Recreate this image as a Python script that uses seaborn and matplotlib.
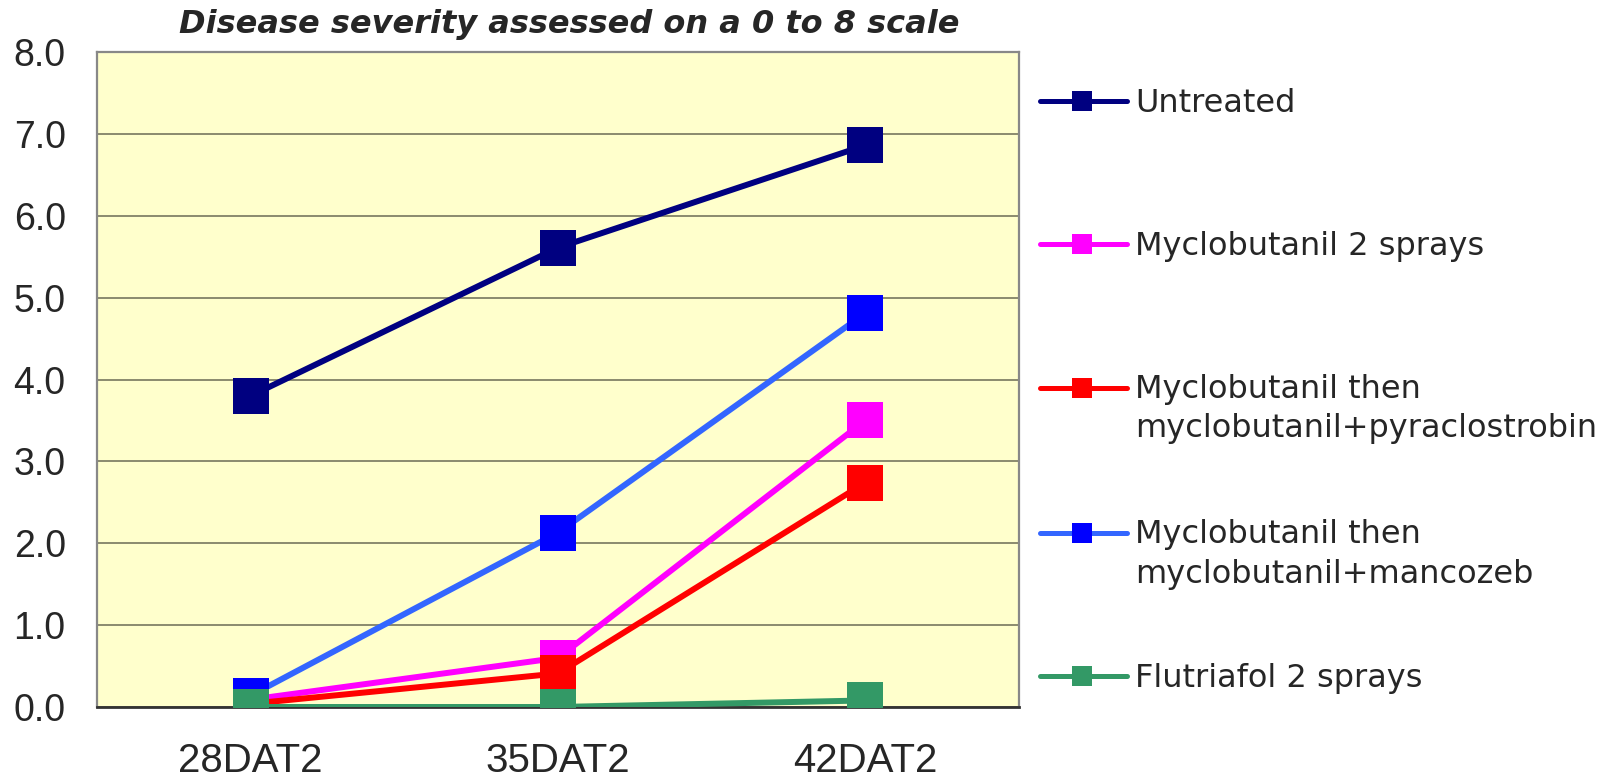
import numpy as np
import pandas as pd
import matplotlib.pyplot as plt
from matplotlib.lines import Line2D
import seaborn as sns

CATEGORIES = ["28DAT2", "35DAT2", "42DAT2"]
SERIES = [
    "Untreated",
    "Myclobutanil 2 sprays",
    "Myclobutanil then\nmyclobutanil+pyraclostrobin",
    "Myclobutanil then\nmyclobutanil+mancozeb",
    "Flutriafol 2 sprays",
]
untreated = [3.80, 5.61, 6.86]
myclo_2 = [0.09, 0.60, 3.50]
myclo_pyra = [0.04, 0.41, 2.74]
myclo_manc = [0.14, 2.13, 4.81]
flutriafol = [0.0, 0.0, 0.08]

LINE_COLORS = ["#000080", "#FF00FF", "#FF0000", "#3366FF", "#339966"]
MARKER_COLORS = ["#000080", "#FF00FF", "#FF0000", "#0000FF", "#339966"]
TITLE = "Disease severity assessed on a 0 to 8 scale"
Y_TICKS = np.arange(0, 9, 1)

values = [untreated, myclo_2, myclo_pyra, myclo_manc, flutriafol]
df = pd.DataFrame({
    "date": CATEGORIES * len(SERIES),
    "severity": np.concatenate(values),
    "treatment": np.repeat(SERIES, len(CATEGORIES)),
})

sns.set_style("white")
plt.rcParams["font.family"] = ["DejaVu Sans"]

W, H = 1609, 779
fig = plt.figure(figsize=(W / 100, H / 100), dpi=100)
ax = fig.add_axes([97 / W, 1 - 707 / H, (1019 - 97) / W, (707 - 52) / H])
ax.set_facecolor("#FFFFCC")

for i, name in enumerate(SERIES):
    sub = df[df["treatment"] == name]
    sns.lineplot(
        data=sub, x="date", y="severity", ax=ax, color=LINE_COLORS[i],
        lw=4.3, marker="s", markersize=26, markerfacecolor=MARKER_COLORS[i],
        markeredgecolor=MARKER_COLORS[i], markeredgewidth=0, legend=False,
        zorder=3 + i * 0.1,
    )

ax.set_xlim(-0.5, 2.5)
ax.set_ylim(0, 8)
ax.set_yticks(Y_TICKS)
ax.set_yticklabels([f"{v:.1f}" for v in Y_TICKS],
                   family=["Liberation Sans", "DejaVu Sans"], fontsize=27)
ax.set_xticks(range(len(CATEGORIES)))
ax.set_xticklabels(CATEGORIES, family=["Liberation Sans", "DejaVu Sans"], fontsize=29)
ax.set_xticks([0.5, 1.5], minor=True)
ax.tick_params(axis="x", which="major", length=0, pad=25)
ax.tick_params(axis="x", which="minor", length=8, width=1.2, color="#555555", direction="out")
ax.tick_params(axis="y", length=9.5, width=1.2, color="#555555", direction="out", pad=13)
ax.grid(axis="y", color="#6B6B55", lw=1.1)
ax.set_axisbelow(True)
ax.set_xlabel("")
ax.set_ylabel("")
for side in ["left", "right", "top"]:
    ax.spines[side].set_color("#888888")
    ax.spines[side].set_linewidth(1.6)
ax.spines["bottom"].set_color("#333333")
ax.spines["bottom"].set_linewidth(2)

fig.text(569 / W, 1 - 24 / H, TITLE, fontsize=23, fontweight="bold", style="italic",
         ha="center", va="center")

# legend drawn by hand: marker sits on the first text line, like the original
legend_y = [101, 244, 388, 533, 676]
for i, name in enumerate(SERIES):
    y = 1 - legend_y[i] / H
    fig.add_artist(Line2D([1040 / W, 1127 / W], [y, y], transform=fig.transFigure,
                          color=LINE_COLORS[i], lw=3.6, solid_capstyle="round"))
    fig.add_artist(Line2D([1082 / W], [y], transform=fig.transFigure, marker="s",
                          markersize=14.7, markerfacecolor=MARKER_COLORS[i],
                          markeredgewidth=0, color=MARKER_COLORS[i]))
    lines = name.split("\n")
    for k, txt in enumerate(lines):
        fig.text(1135 / W, y - (2 + 39 * k) / H, txt, fontsize=23, va="center", ha="left")

fig.savefig("out.png", dpi=100)
plt.close(fig)
